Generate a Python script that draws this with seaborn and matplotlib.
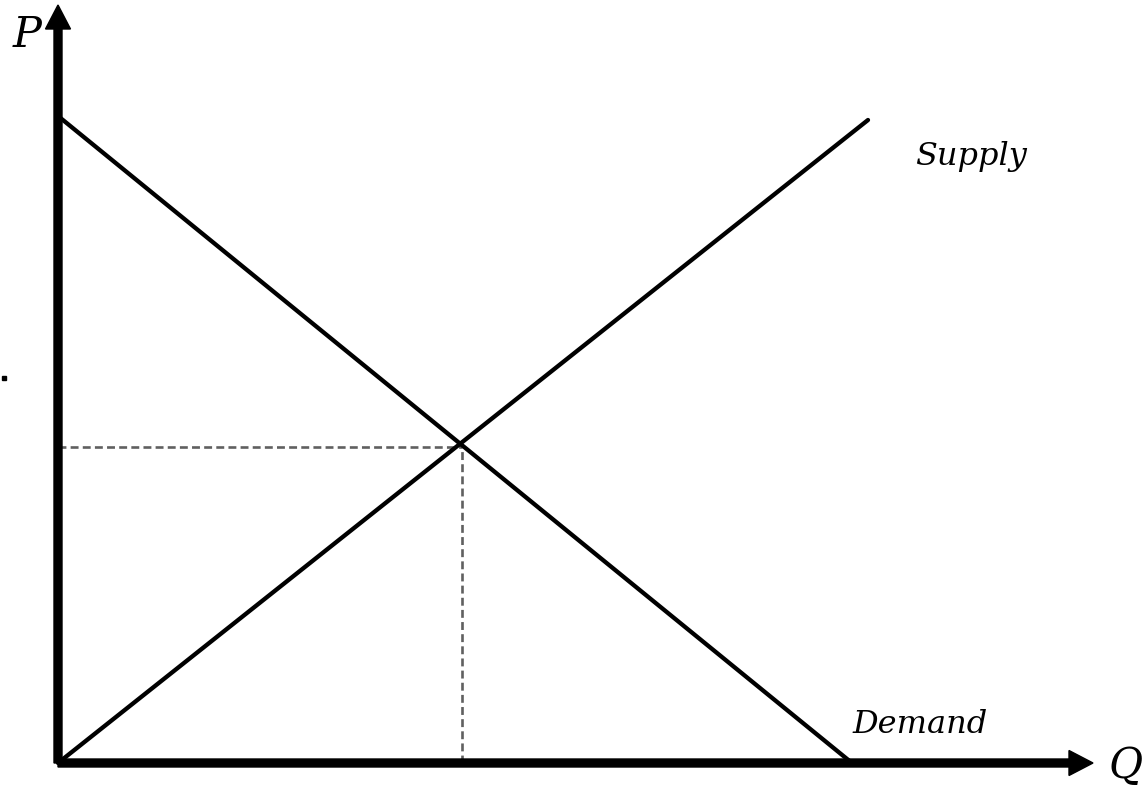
import matplotlib
matplotlib.use("Agg")
import matplotlib.pyplot as plt
import seaborn as sns

# Data (arbitrary units, origin at the axes corner)
demand_q = [0.0, 7.94]
demand_p = [6.47, 0.0]
supply_q = [0.0, 8.10]
supply_p = [0.0, 6.43]
eq_q = 4.04
eq_p = 3.16
q_axis_end = 10.35
p_axis_end = 7.58

sns.set_style("white")
plt.rcParams['font.family'] = ['DejaVu Serif']

fig = plt.figure(figsize=(11.47, 7.92), dpi=100)
ax = fig.add_axes([0, 0, 1, 1])
ax.set_xlim(-0.58, 10.89)
ax.set_ylim(-0.29, 7.63)
ax.axis("off")

# axes with arrows
ax.arrow(0, 0, 0, p_axis_end, width=0.08, head_width=0.25, head_length=0.24,
         length_includes_head=True, color="black", zorder=5)
ax.arrow(0, 0, q_axis_end, 0, width=0.08, head_width=0.25, head_length=0.24,
         length_includes_head=True, color="black", zorder=5)

# curves
sns.lineplot(x=demand_q, y=demand_p, ax=ax, color="black", linewidth=3.1)
sns.lineplot(x=supply_q, y=supply_p, ax=ax, color="black", linewidth=3.1)

# equilibrium guides
ax.plot([0, eq_q], [eq_p, eq_p], color="#606060", linestyle=(0, (3, 1.6)), linewidth=1.9, zorder=1)
ax.plot([eq_q, eq_q], [0, eq_p], color="#606060", linestyle=(0, (3, 1.6)), linewidth=1.9, zorder=1)

# stray dot
ax.plot([-0.54], [3.85], marker="s", markersize=3, color="black")

# labels
ax.text(8.57, 5.98, "Supply", fontsize=23, style="italic", va="baseline", color="black")
ax.text(7.94, 0.30, "Demand", fontsize=23, style="italic", va="baseline", color="black")
ax.text(-0.45, 7.16, "P", fontsize=31, style="italic", va="baseline", color="black")
ax.text(10.50, -0.15, "Q", fontsize=30, style="italic", va="baseline", color="black")

fig.savefig("out.png", dpi=100)
